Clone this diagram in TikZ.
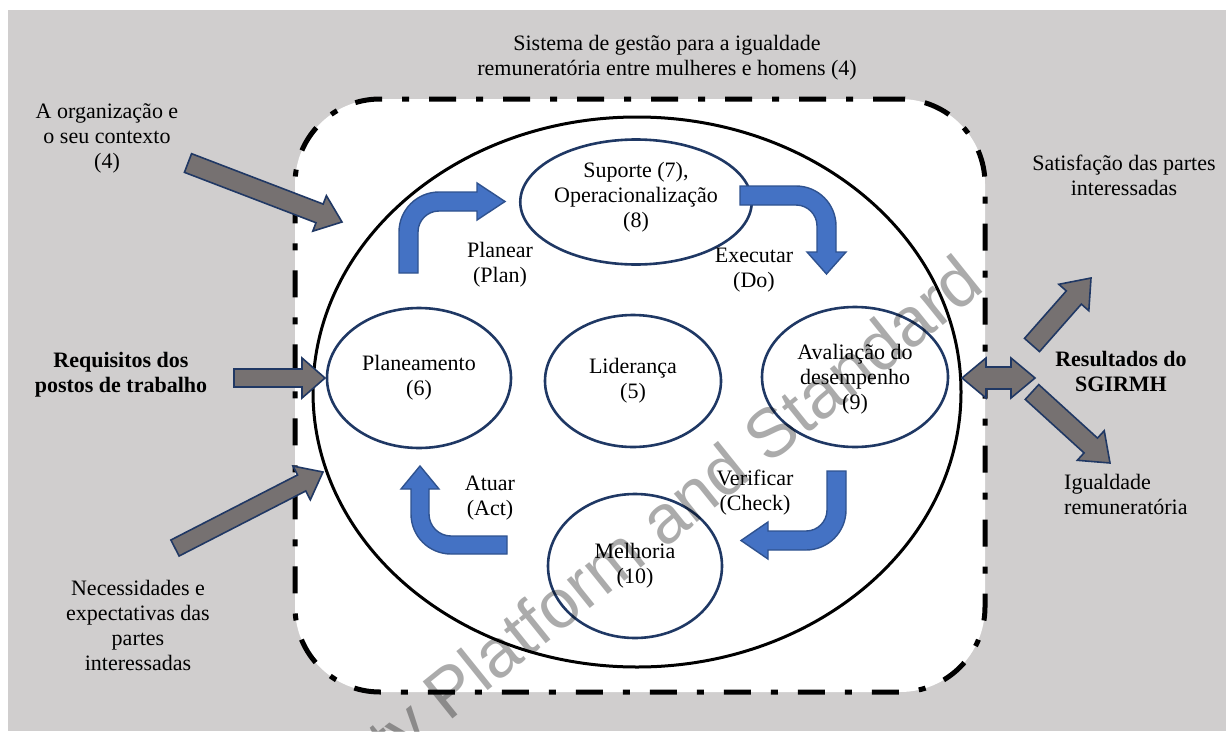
\documentclass[tikz,border=0pt]{standalone}
\usepackage{fontspec}
\setmainfont{Liberation Serif}
\newfontfamily\wmfont{Liberation Sans}
\usetikzlibrary{shapes.geometric,calc}
\definecolor{bggray}{HTML}{D0CECE}
\definecolor{navy}{HTML}{203864}
\definecolor{ellnavy}{HTML}{1F3864}
\definecolor{bluefill}{HTML}{4472C4}
\definecolor{blueline}{HTML}{2F528F}
\definecolor{arrgray}{HTML}{767171}
\newcommand{\fs}{\fontsize{22}{25}\selectfont}
\newcommand{\grayarrow}[5]{%
  \path ($(#2)!#5!(#1)$) coordinate (ga-c);
  \draw[grayarr] ($(#1)!#3!90:(#2)$) -- ($(ga-c)!#3!90:(#2)$) -- ($(ga-c)!#4!90:(#2)$) -- (#2)
    -- ($(ga-c)!#4!-90:(#2)$) -- ($(ga-c)!#3!-90:(#2)$) -- ($(#1)!#3!-90:(#2)$) -- cycle;
}
\newcommand{\dblarrow}[5]{%
  \path ($(#1)!#5!(#2)$) coordinate (da-a) ($(#2)!#5!(#1)$) coordinate (da-b);
  \draw[grayarr] (#1) -- ($(da-a)!#4!90:(#2)$) -- ($(da-a)!#3!90:(#2)$) -- ($(da-b)!#3!90:(#2)$)
    -- ($(da-b)!#4!90:(#2)$) -- (#2) -- ($(da-b)!#4!-90:(#2)$) -- ($(da-b)!#3!-90:(#2)$)
    -- ($(da-a)!#3!-90:(#2)$) -- ($(da-a)!#4!-90:(#2)$) -- cycle;
}
\begin{document}
\begin{tikzpicture}[x=1pt,y=-1pt,
  ell/.style={ellipse, draw=ellnavy, line width=2.6pt, fill=white, align=center, inner sep=0pt, font=\fs},
  lbl/.style={align=center, font=\fs, inner sep=0pt},
  grayarr/.style={fill=arrgray, draw=navy, line width=1.6pt, line join=miter},
  bluearr/.style={fill=bluefill, draw=blueline, line width=1.4pt, line join=miter}]
\useasboundingbox (0,0) rectangle (1226,731);
\fill[white] (0,0) rectangle (1226,731);
\fill[bggray] (8,10) rectangle (1226,731);

% frame
\node[draw, rounded corners=85pt, fill=white, line width=5pt,
  dash pattern=on 27pt off 20pt on 7pt off 20pt,
  minimum width=690pt, minimum height=593pt, inner sep=0pt, outer sep=0pt] (frame) at (640,395.5) {};
% system ellipse
\node[ellipse, draw, line width=3pt, minimum width=648pt, minimum height=550pt, inner sep=0pt] (sys) at (637,392) {};

% inner ellipses
\node[ell, minimum width=186pt, minimum height=125pt, text depth=15pt] (sup) at (636,202) {Suporte (7),\\Operacionalização\\(8)};
\node[ell, minimum width=184pt, minimum height=140pt] (plan) at (419,378) {Planeamento\\(6)};
\node[ell, minimum width=176pt, minimum height=132pt] (lid) at (633,381) {Liderança\\(5)};
\node[ell, minimum width=186pt, minimum height=140pt, text depth=0pt] (aval) at (855,377) {Avaliação do\\desempenho\\(9)};
\node[ell, minimum width=174pt, minimum height=144pt] (melh) at (635,566) {Melhoria\\(10)};

% blue cycle arrows
\draw[bluearr] (399,273) -- (399,232) arc[start angle=180,end angle=270,radius=40] -- (477,192) -- (477,183)
  -- (505,201.5) -- (477,220) -- (477,211) -- (439,211) arc[start angle=270,end angle=180,radius=21] -- (418,273) -- cycle;
\draw[bluearr] (740,186) -- (796,186) arc[start angle=270,end angle=360,radius=40] -- (836,252) -- (846,252)
  -- (826.5,274) -- (807,252) -- (817,252) -- (817,226) arc[start angle=0,end angle=-90,radius=21] -- (740,205) -- cycle;
\draw[bluearr] (827,471) -- (846,471) -- (846,510) arc[start angle=0,end angle=90,radius=40] -- (768,550) -- (768,559)
  -- (741,540.5) -- (768,522) -- (768,531) -- (806,531) arc[start angle=90,end angle=0,radius=21] -- cycle;
\draw[bluearr] (507,536) -- (451,536) arc[start angle=90,end angle=180,radius=22] -- (429,489) -- (439,489)
  -- (420,466) -- (401,489) -- (411,489) -- (411,514) arc[start angle=180,end angle=90,radius=40] -- (507,554) -- cycle;

% labels
\node[lbl] (title) at (667,57.5) {Sistema de gestão para a igualdade\\remuneratória entre mulheres e homens (4)};
\node[lbl] (org) at (107,138) {A organização e\\o seu contexto\\(4)};
\node[lbl, font=\fs\bfseries] (req) at (121,375) {Requisitos dos\\postos de trabalho};
\node[lbl] (nec) at (138,625) {Necessidades e\\expectativas das\\partes\\interessadas};
\node[lbl] (sat) at (1124,175.5) {Satisfação das partes\\interessadas};
\node[lbl, font=\fs\bfseries] (res) at (1121,371.5) {Resultados do\\SGIRMH};
\node[lbl, align=left, anchor=west] (igu) at (1064,494.5) {Igualdade\\remuneratória};
\node[lbl] (lplan) at (500,264.5) {Planear\\(Plan)};
\node[lbl] (lexe) at (754,270.5) {Executar\\(Do)};
\node[lbl] (lver) at (755,492.5) {Verificar\\(Check)};
\node[lbl] (lact) at (490,498.5) {Atuar\\(Act)};

% gray arrows
\coordinate (g1a) at (188,163); \coordinate (g1b) at (342,222);
\coordinate (g2a) at (234,378); \coordinate (g2b) at (325,378);
\coordinate (g3a) at (175,548); \coordinate (g3b) at (323,472);
\coordinate (g4a) at (1032,345); \coordinate (g4b) at (1091,278);
\coordinate (g5a) at (1032,392); \coordinate (g5b) at (1110,463);
\coordinate (g6a) at (962,378); \coordinate (g6b) at (1035,378);
\grayarrow{g1a}{g1b}{10pt}{19pt}{24pt}
\grayarrow{g2a}{g2b}{9pt}{20pt}{23pt}
\grayarrow{g3a}{g3b}{9pt}{19pt}{24pt}
\grayarrow{g4a}{g4b}{10pt}{20pt}{26pt}
\grayarrow{g5a}{g5b}{10pt}{20pt}{26pt}
\dblarrow{g6a}{g6b}{11pt}{20pt}{24pt}

% watermark
\begin{scope}
\clip (0,0) rectangle (1226,731);
\node[rotate=38.8, font=\wmfont\fontsize{69}{69}\selectfont, text=black, text opacity=0.33, anchor=base west, inner sep=0pt] (wm) at (392,768) {ty Platform and Standard};
\end{scope}
\end{tikzpicture}
\end{document}
